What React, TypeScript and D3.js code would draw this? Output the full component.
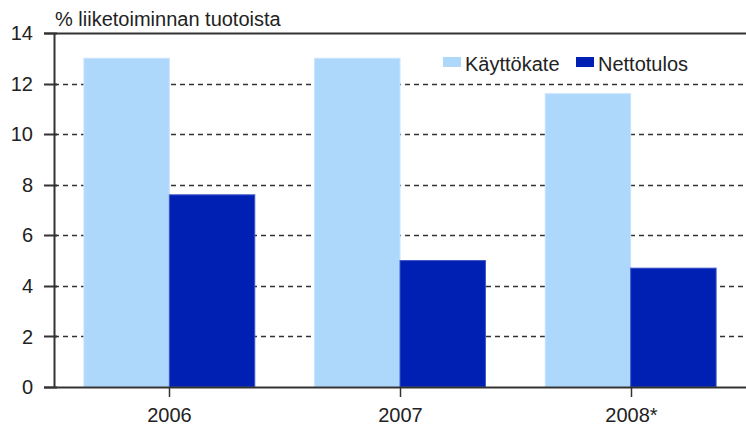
import React from "react";
import * as d3 from "d3";

const categories = ["2006", "2007", "2008*"];
const seriesNames = ["Käyttökate", "Nettotulos"];
const kayttokate = [13.0, 13.0, 11.6];
const nettotulos = [7.6, 5.0, 4.7];
const yTicks = [0, 2, 4, 6, 8, 10, 12, 14];
const yTitle = "% liiketoiminnan tuotoista";

const colors = ["#ADD8FC", "#0020B4"];
const strokes = ["#C8E4FD", "#3A55C8"];

const W = 746;
const H = 425;
const left = 54;
const right = 746;
const top = 33;
const bottom = 387;
const font = "'Liberation Sans', Arial, sans-serif";
const axisColor = "#333";
const textColor = "#222";

export default function App() {
  const x = d3.scaleBand<string>().domain(categories).range([left, right]).padding(0);
  const xs = d3
    .scaleBand<string>()
    .domain(seriesNames)
    .range([0, x.bandwidth()])
    .paddingInner(0)
    .paddingOuter(0.35);
  const y = d3.scaleLinear().domain([0, 14]).range([bottom, top]);
  const values = [kayttokate, nettotulos];

  return (
    <svg
      width={W}
      height={H}
      style={{ position: "absolute", left: 0, top: 0, background: "#fff" }}
    >
      <rect x={0} y={0} width={W} height={H} fill="#fff" />
      {/* gridlines */}
      {yTicks
        .filter((t) => t !== 0 && t !== 14)
        .map((t) => (
          <line
            key={"g" + t}
            x1={left}
            x2={right}
            y1={Math.round(y(t)) + 0.5}
            y2={Math.round(y(t)) + 0.5}
            stroke={axisColor}
            strokeWidth={1.3}
            strokeDasharray="5,4"
          />
        ))}
      {/* bars */}
      {categories.map((c, i) =>
        seriesNames.map((s, j) => {
          const v = values[j][i];
          const bx = (x(c) as number) + (xs(s) as number);
          return (
            <rect
              key={c + s}
              x={bx}
              y={y(v)}
              width={xs.bandwidth()}
              height={bottom - y(v)}
              fill={colors[j]}
              stroke={strokes[j]}
              strokeWidth={1}
            />
          );
        })
      )}
      {/* top border */}
      <line x1={left - 10} x2={right} y1={top + 0.5} y2={top + 0.5} stroke={axisColor} strokeWidth={2} />
      {/* y axis */}
      <line x1={left + 0.5} x2={left + 0.5} y1={top} y2={bottom} stroke={axisColor} strokeWidth={2} />
      {yTicks.map((t) => (
        <g key={"t" + t}>
          <line
            x1={left - 10}
            x2={left + 3}
            y1={Math.round(y(t)) + 0.5}
            y2={Math.round(y(t)) + 0.5}
            stroke={axisColor}
            strokeWidth={2}
          />
          <text
            x={33}
            y={y(t)}
            dy="0.36em"
            textAnchor="end"
            fontFamily={font}
            fontSize={20}
            fill={textColor}
          >
            {t}
          </text>
        </g>
      ))}
      {/* x axis */}
      <line x1={left - 10} x2={right} y1={bottom + 0.5} y2={bottom + 0.5} stroke={axisColor} strokeWidth={2} />
      {categories.map((c) => {
        const cx = Math.round((x(c) as number) + x.bandwidth() / 2) + 0.5;
        return (
          <g key={"x" + c}>
            <line x1={cx} x2={cx} y1={bottom} y2={bottom + 10} stroke={axisColor} strokeWidth={1.5} />
            <text
              x={cx}
              y={422}
              textAnchor="middle"
              fontFamily={font}
              fontSize={20}
              fill={textColor}
            >
              {c}
            </text>
          </g>
        );
      })}
      {/* title */}
      <text x={55} y={26} fontFamily={font} fontSize={20} fill={textColor}>
        {yTitle}
      </text>
      {/* legend */}
      {seriesNames.map((s, j) => {
        const lx = [443, 576][j];
        return (
          <g key={"l" + s}>
            <rect x={lx} y={57} width={18} height={10} fill={colors[j]} />
            <text x={lx + 22} y={71} fontFamily={font} fontSize={20} fill={textColor}>
              {s}
            </text>
          </g>
        );
      })}
    </svg>
  );
}
